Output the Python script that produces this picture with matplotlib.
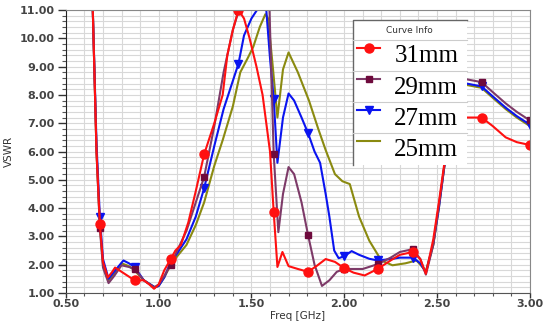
import numpy as np
import matplotlib
matplotlib.use("Agg")
import matplotlib.pyplot as plt
from matplotlib.lines import Line2D
from matplotlib.patches import Rectangle
from matplotlib.ticker import MultipleLocator


# data (Freq [GHz] -> VSWR)

marker_freqs = [0.683, 0.87, 1.065, 1.245, 1.43, 1.62, 1.805, 2.0, 2.18, 2.37, 2.74, 3.0]

freq_31 = [0.63, 0.645, 0.665, 0.683, 0.70, 0.726, 0.75, 0.765, 0.80, 0.87, 0.92, 0.95, 0.975,
           1.00, 1.03, 1.065, 1.09, 1.12, 1.16, 1.20, 1.245, 1.30, 1.345, 1.37, 1.40, 1.43,
           1.46, 1.49, 1.527, 1.56, 1.58, 1.60, 1.62, 1.64, 1.667, 1.70, 1.75, 1.805, 1.85,
           1.90, 1.95, 2.0, 2.05, 2.11, 2.18, 2.25, 2.30, 2.37, 2.41, 2.44, 2.48, 2.51, 2.54,
           2.58, 2.62, 2.66, 2.74, 2.80, 2.87, 2.93, 3.0]
vswr_31 = [12.0, 11.0, 6.0, 3.45, 2.1, 1.55, 1.75, 1.9, 1.75, 1.45, 1.45, 1.3, 1.15,
           1.3, 1.8, 2.2, 2.5, 2.7, 3.5, 4.6, 5.9, 7.0, 8.0, 9.4, 10.3, 11.0,
           10.7, 10.0, 9.0, 8.0, 7.0, 6.0, 3.85, 1.92, 2.45, 1.95, 1.85, 1.75, 1.95,
           2.2, 2.1, 1.88, 1.72, 1.62, 1.85, 2.15, 2.35, 2.45, 2.2, 1.68, 2.9, 4.2, 5.6,
           6.8, 7.15, 7.2, 7.2, 6.9, 6.5, 6.33, 6.23]

freq_29 = [0.63, 0.645, 0.665, 0.683, 0.70, 0.73, 0.76, 0.80, 0.84, 0.87, 0.92, 0.975,
           1.00, 1.03, 1.065, 1.10, 1.15, 1.20, 1.245, 1.30, 1.35, 1.40, 1.43, 1.47, 1.52,
           1.57, 1.595, 1.62, 1.645, 1.67, 1.70, 1.73, 1.77, 1.805, 1.84, 1.88, 1.92, 1.96,
           2.0, 2.10, 2.18, 2.25, 2.30, 2.37, 2.41, 2.44, 2.48, 2.51, 2.54, 2.58, 2.62, 2.66,
           2.74, 2.80, 2.87, 2.93, 3.0]
vswr_29 = [12.0, 11.0, 6.0, 3.3, 1.9, 1.35, 1.6, 1.98, 1.92, 1.85, 1.45, 1.2,
           1.3, 1.6, 2.0, 2.5, 3.2, 4.2, 5.1, 6.9, 8.8, 10.3, 10.95, 11.6, 12.0,
           11.8, 11.5, 5.9, 3.15, 4.5, 5.45, 5.2, 4.2, 3.05, 2.0, 1.25, 1.45, 1.75,
           1.85, 1.85, 2.02, 2.25, 2.45, 2.55, 2.2, 1.65, 2.7, 4.1, 5.5, 7.5, 8.4, 8.55,
           8.45, 8.1, 7.7, 7.4, 7.1]

freq_27 = [0.63, 0.645, 0.665, 0.683, 0.70, 0.73, 0.76, 0.81, 0.84, 0.87, 0.92, 0.98,
           1.00, 1.03, 1.065, 1.10, 1.15, 1.20, 1.245, 1.30, 1.35, 1.40, 1.43, 1.46, 1.50,
           1.53, 1.555, 1.58, 1.60, 1.62, 1.64, 1.67, 1.70, 1.73, 1.77, 1.805, 1.84, 1.87,
           1.90, 1.92, 1.946, 1.97, 2.0, 2.04, 2.08, 2.135, 2.18, 2.25, 2.30, 2.37, 2.41,
           2.44, 2.48, 2.51, 2.54, 2.58, 2.62, 2.66, 2.74, 2.80, 2.87, 2.93, 3.0]
vswr_27 = [12.0, 11.0, 6.3, 3.7, 2.2, 1.5, 1.75, 2.15, 2.05, 1.92, 1.45, 1.2,
           1.25, 1.55, 2.1, 2.4, 2.9, 3.7, 4.7, 6.2, 7.5, 8.5, 9.1, 10.1, 10.7,
           11.0, 11.5, 11.0, 9.3, 7.85, 5.6, 7.2, 8.05, 7.8, 7.2, 6.65, 6.0, 5.6,
           4.5, 3.7, 2.5, 2.23, 2.3, 2.48, 2.35, 2.21, 2.15, 2.2, 2.25, 2.25, 2.05,
           1.72, 2.75, 4.0, 5.5, 7.3, 8.2, 8.4, 8.3, 7.95, 7.55, 7.25, 6.95]

freq_25 = [0.63, 0.645, 0.665, 0.683, 0.70, 0.73, 0.76, 0.80, 0.84, 0.87, 0.92, 0.98,
           1.00, 1.03, 1.065, 1.10, 1.15, 1.20, 1.245, 1.30, 1.345, 1.40, 1.44, 1.48, 1.51,
           1.545, 1.575, 1.59, 1.615, 1.64, 1.67, 1.70, 1.75, 1.81, 1.86, 1.90, 1.95, 1.99,
           2.03, 2.08, 2.135, 2.20, 2.26, 2.33, 2.39, 2.44, 2.48, 2.51, 2.54, 2.58, 2.62,
           2.66, 2.74, 2.80, 2.87, 2.93, 3.0]
vswr_25 = [12.0, 11.0, 6.0, 3.4, 2.0, 1.45, 1.65, 2.05, 1.95, 1.8, 1.45, 1.2,
           1.25, 1.55, 2.0, 2.3, 2.7, 3.4, 4.2, 5.5, 6.4, 7.6, 8.8, 9.3, 9.7,
           10.4, 10.85, 10.7, 9.0, 7.2, 8.9, 9.5, 8.8, 7.8, 6.8, 6.05, 5.2, 4.95,
           4.85, 3.7, 2.85, 2.15, 1.98, 2.05, 2.15, 1.78, 2.7, 4.0, 5.5, 7.2, 8.1,
           8.35, 8.25, 7.9, 7.5, 7.2, 6.9]

labels = ["31mm", "29mm", "27mm", "25mm"]


fig = plt.figure(figsize=(5.49, 3.22), dpi=100)
ax = fig.add_axes([0.12, 0.09, 0.845, 0.879])

red = "#ff1010"
purple = "#7d3a68"
blue = "#0a14f0"
olive = "#8a8a10"


def marks(freq):
    return list(np.where(np.isin(np.round(freq, 3), marker_freqs))[0])


ax.plot(freq_25, vswr_25, color=olive, lw=1.5)
ax.plot(freq_27, vswr_27, color=blue, lw=1.5, marker="v", ms=6,
        markevery=marks(freq_27))
ax.plot(freq_29, vswr_29, color=purple, lw=1.5, marker="s", ms=4.5,
        mfc="#6e0a3c", mec="#6e0a3c", markevery=marks(freq_29))
ax.plot(freq_31, vswr_31, color=red, lw=1.5, marker="o", ms=6.5,
        markevery=marks(freq_31))

ax.set_xlim(0.5, 3.0)
ax.set_ylim(1.0, 11.0)
ax.xaxis.set_major_locator(MultipleLocator(0.5))
ax.xaxis.set_minor_locator(MultipleLocator(0.1))
ax.yaxis.set_major_locator(MultipleLocator(1.0))
ax.yaxis.set_minor_locator(MultipleLocator(0.2))
ax.xaxis.set_major_formatter(plt.FormatStrFormatter("%.2f"))
ax.yaxis.set_major_formatter(plt.FormatStrFormatter("%.2f"))
ax.grid(which="both", color="#d8d8d8", lw=0.8)
ax.set_axisbelow(True)

ax.tick_params(which="major", direction="out", length=6, width=1, color="#333333",
               labelsize=8, labelcolor="#444444", pad=2)
ax.tick_params(which="minor", direction="out", length=3, width=0.8, color="#555555")
ax.tick_params(axis="x", which="major", length=3.5, pad=1)
ax.tick_params(axis="x", which="minor", length=2.5)
for lab in ax.get_xticklabels() + ax.get_yticklabels():
    lab.set_fontweight("bold")

ax.spines["left"].set_color("#222222")
ax.spines["bottom"].set_color("#555555")
ax.spines["top"].set_color("#888888")
ax.spines["right"].set_color("#888888")

ax.set_xlabel("Freq [GHz]", fontsize=7.5, color="#333333", labelpad=1)
ax.set_ylabel("VSWR", fontsize=7.5, color="#333333", labelpad=4)


# "Curve Info" box drawn by hand, as in the reference
x0, x1 = 0.619, 0.864
y_top, y_bot = 0.965, 0.452
ax.add_patch(Rectangle((x0, y_bot), x1 - x0, y_top - y_bot, transform=ax.transAxes,
                       facecolor="white", edgecolor="none", zorder=5))
ax.add_line(Line2D([x0, x0, x1], [y_bot, y_top, y_top], transform=ax.transAxes,
                   color="#666666", lw=1, zorder=6))
ax.text((x0 + x1) / 2, 0.929, "Curve Info", transform=ax.transAxes, ha="center",
        va="center", fontsize=6.5, color="#333333", zorder=7)

row_h = 0.11
first = 0.894
handles = [(red, "o", red, 6.5), (purple, "s", "#6e0a3c", 4.5),
           (blue, "v", blue, 6), (olive, "", olive, 0)]
for i, (name, (c, m, mc, ms)) in enumerate(zip(labels, handles)):
    top = first - i * row_h
    ax.add_line(Line2D([x0, x1], [top, top], transform=ax.transAxes,
                       color="#cccccc", lw=0.8, zorder=6))
    yh = top - 0.028
    ax.add_line(Line2D([0.628, 0.678], [yh, yh], transform=ax.transAxes, color=c, lw=1.5,
                       zorder=7))
    if m:
        ax.add_line(Line2D([0.653], [yh], transform=ax.transAxes, marker=m, ms=ms,
                           color=mc, lw=0, zorder=8))
    ax.text(0.708, top - 0.058, name, transform=ax.transAxes, ha="left", va="center",
            fontsize=18, family="Liberation Serif", color="black", zorder=7)

fig.savefig("out.png", dpi=100)
